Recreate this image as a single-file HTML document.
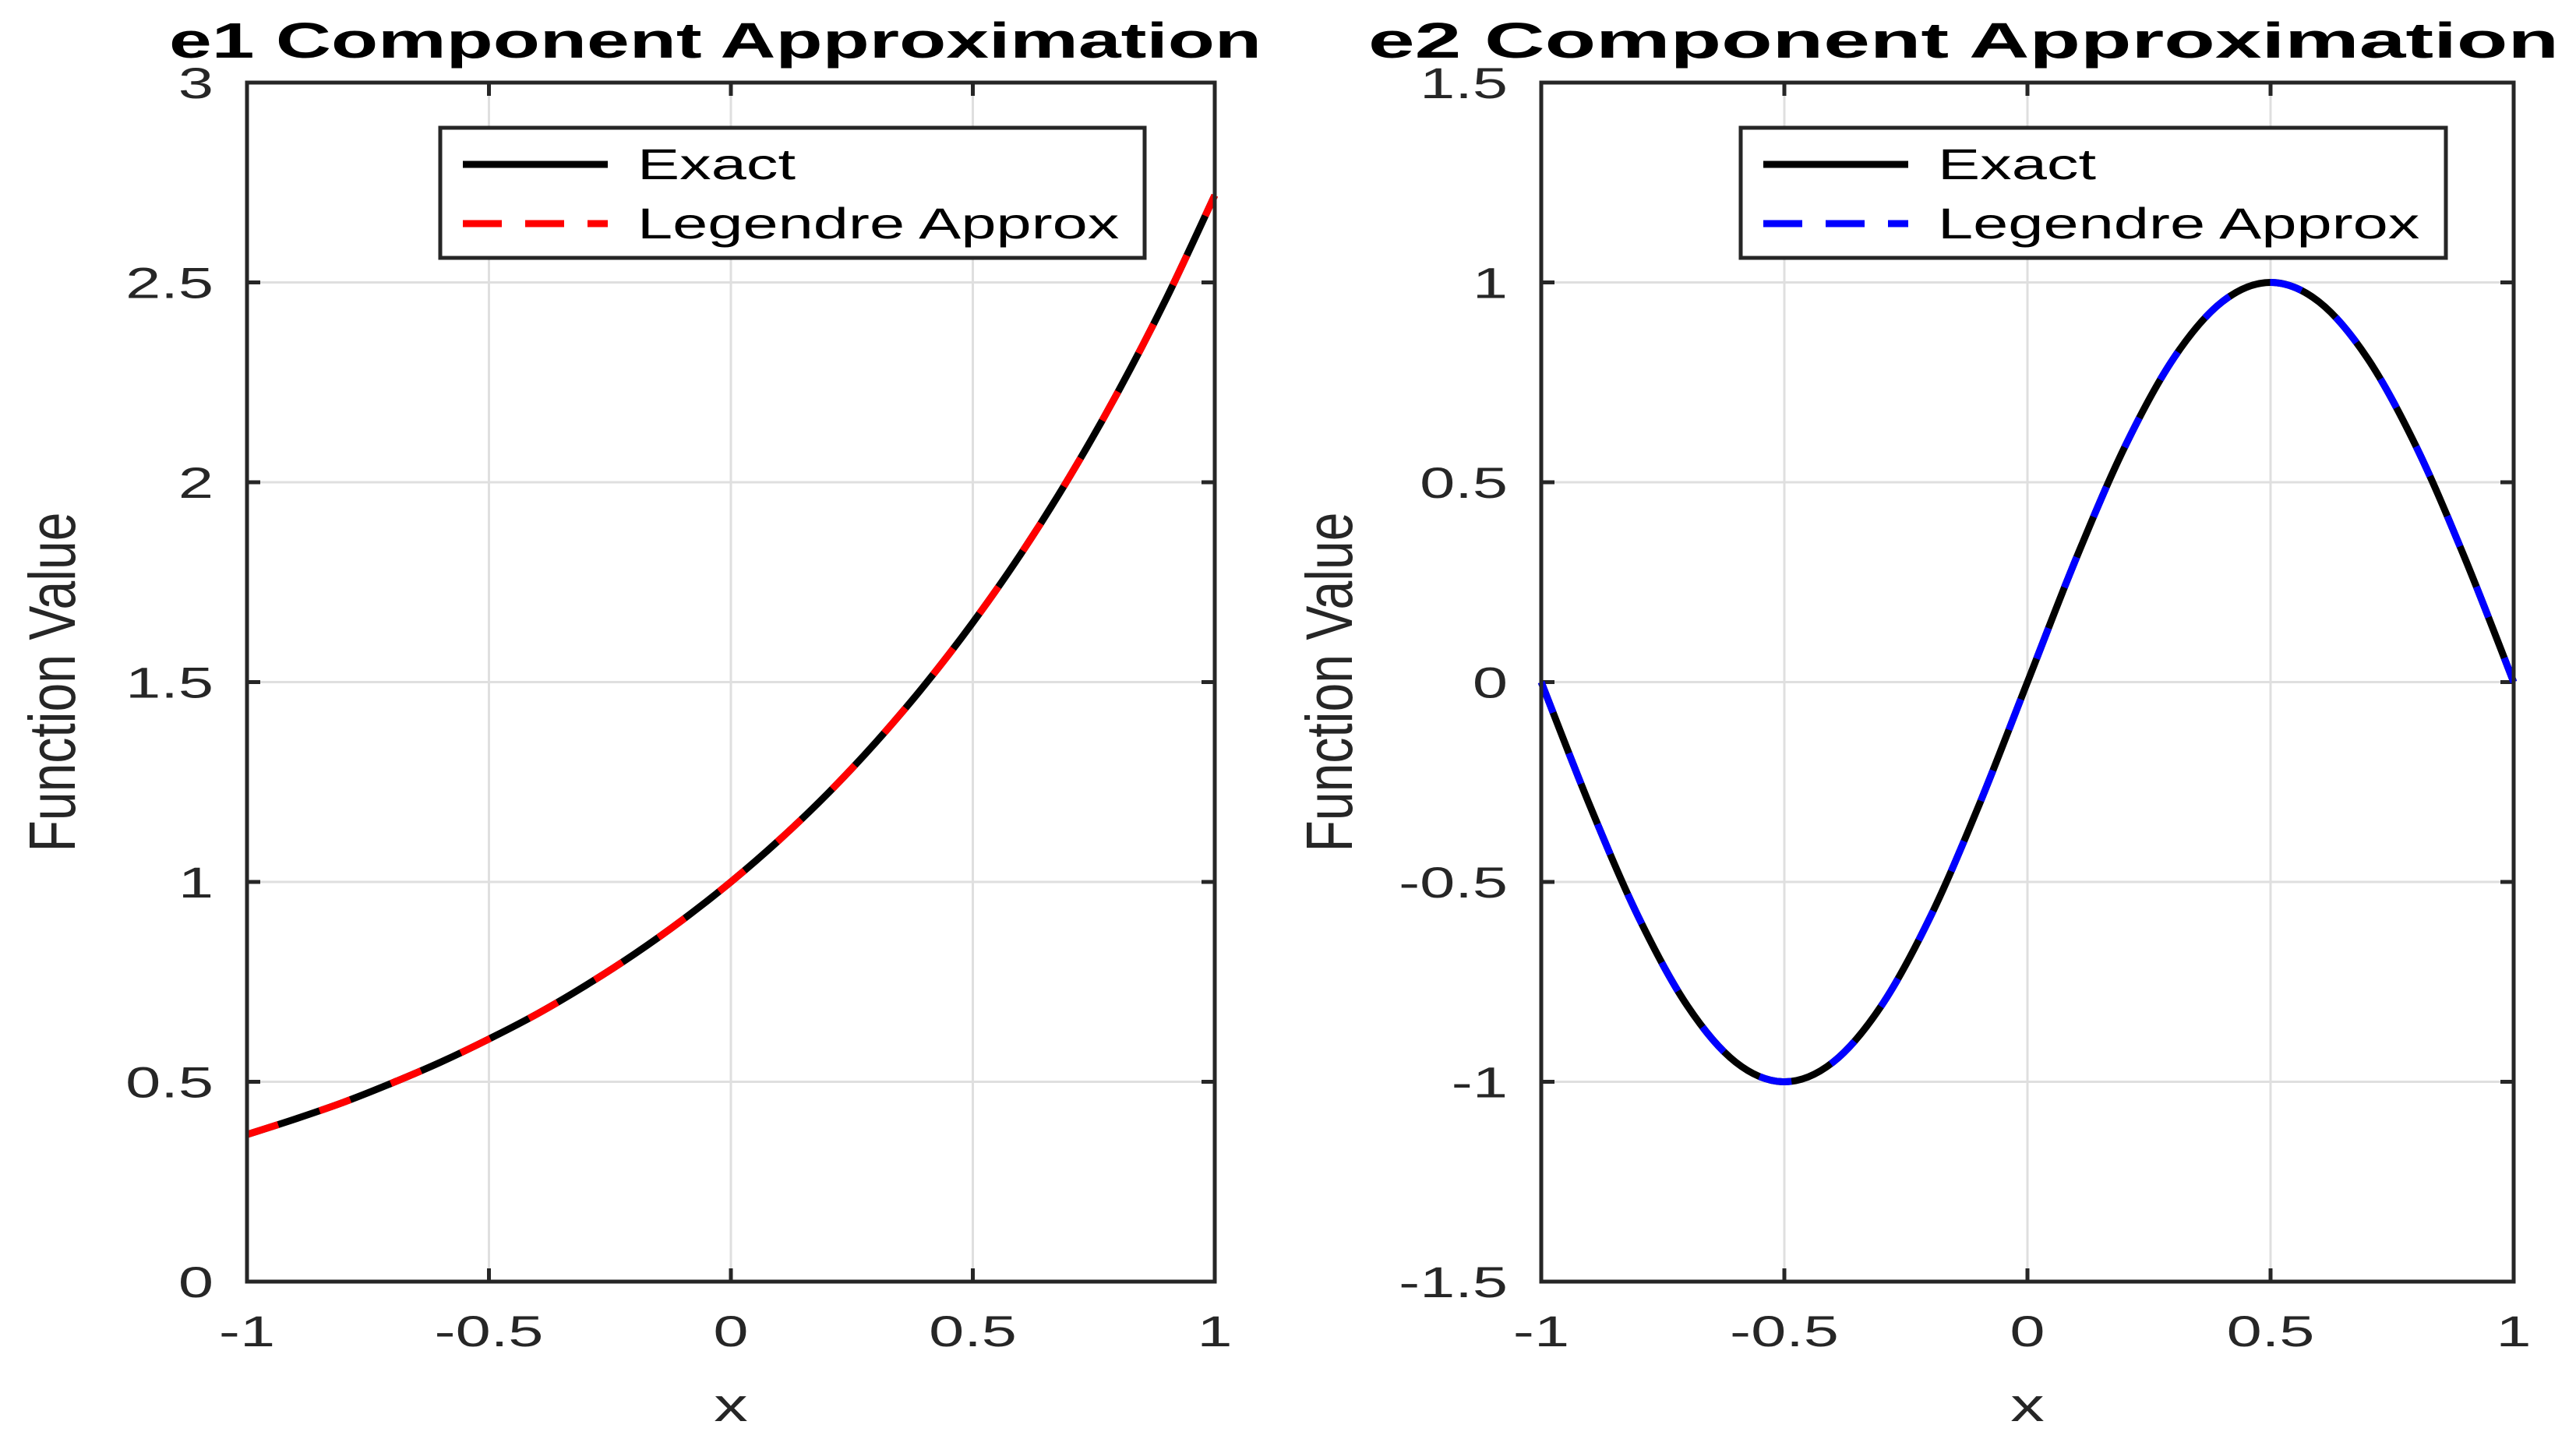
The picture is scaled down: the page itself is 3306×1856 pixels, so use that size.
<!DOCTYPE html>
<html><head><meta charset="utf-8"><style>
html,body{margin:0;padding:0;background:#fff;}
svg{display:block;}
</style></head><body>
<svg id="fig" width="3306" height="1856" viewBox="0 0 3306 1856" xmlns="http://www.w3.org/2000/svg" font-family="Liberation Sans, sans-serif"></svg>
<script>
const xValues = [-1,-0.9,-0.8,-0.7,-0.6,-0.5,-0.4,-0.3,-0.2,-0.1,0,0.1,0.2,0.3,0.4,0.5,0.6,0.7,0.8,0.9,1];
const e1Exact = [0.368,0.407,0.449,0.497,0.549,0.607,0.670,0.741,0.819,0.905,1.0,1.105,1.221,1.350,1.492,1.649,1.822,2.014,2.226,2.460,2.718];
const e1Approx = [0.368,0.407,0.449,0.497,0.549,0.607,0.670,0.741,0.819,0.905,1.0,1.105,1.221,1.350,1.492,1.649,1.822,2.014,2.226,2.460,2.718];
const e2Exact = [0,-0.309,-0.588,-0.809,-0.951,-1,-0.951,-0.809,-0.588,-0.309,0,0.309,0.588,0.809,0.951,1,0.951,0.809,0.588,0.309,0];
const e2Approx = [0,-0.309,-0.588,-0.809,-0.951,-1,-0.951,-0.809,-0.588,-0.309,0,0.309,0.588,0.809,0.951,1,0.951,0.809,0.588,0.309,0];
const xTicks = [-1,-0.5,0,0.5,1];
const xTickLabels = ["-1","-0.5","0","0.5","1"];
const e1YTicks = [0,0.5,1,1.5,2,2.5,3];
const e1YTickLabels = ["0","0.5","1","1.5","2","2.5","3"];
const e2YTicks = [-1.5,-1,-0.5,0,0.5,1,1.5];
const e2YTickLabels = ["-1.5","-1","-0.5","0","0.5","1","1.5"];

const NS = "http://www.w3.org/2000/svg";
const svg = document.getElementById('fig');
function mk(tag, attrs, parent){
  const e = document.createElementNS(NS, tag);
  for (const k in attrs) e.setAttribute(k, attrs[k]);
  (parent||svg).appendChild(e);
  return e;
}
function smoothPath(pts){
  let d = `M${pts[0][0]},${pts[0][1]}`;
  for (let i=0;i<pts.length-1;i++){
    const p0=pts[Math.max(i-1,0)], p1=pts[i], p2=pts[i+1], p3=pts[Math.min(i+2,pts.length-1)];
    const c1=[p1[0]+(p2[0]-p0[0])/6, p1[1]+(p2[1]-p0[1])/6];
    const c2=[p2[0]-(p3[0]-p1[0])/6, p2[1]-(p3[1]-p1[1])/6];
    d += ` C${c1[0]},${c1[1]} ${c2[0]},${c2[1]} ${p2[0]},${p2[1]}`;
  }
  return d;
}
const SX = 1.45;

function panel(cfg){
  const {L,R,T,B,ymin,ymax,yTicks,yLabels,exact,approx,color,title,key,legend,titleX,titleW,ylabX} = cfg;
  const g = mk('g',{});
  
  
  const xs = v => L + (v+1)/2*(R-L);
  const ys = v => B - (v-ymin)/(ymax-ymin)*(B-T);
  xTicks.forEach((t,i)=>{
    const l = mk('line',{x1:xs(t),x2:xs(t),y1:T,y2:B,stroke:'#dfdfdf','stroke-width':3},g);
    
    
  });
  yTicks.forEach((t,i)=>{
    const l = mk('line',{x1:L,x2:R,y1:ys(t),y2:ys(t),stroke:'#dfdfdf','stroke-width':3},g);
    
    
  });
  const tl = 17;
  xTicks.forEach((t,i)=>{
    mk('line',{x1:xs(t),x2:xs(t),y1:B,y2:B-tl,stroke:'#262626','stroke-width':5},g);
    mk('line',{x1:xs(t),x2:xs(t),y1:T,y2:T+tl,stroke:'#262626','stroke-width':5},g);
    const tx = mk('text',{x:0,y:0,'text-anchor':'middle','font-size':56,fill:'#262626',transform:`translate(${xs(t)},1728) scale(${SX},1)`},g);
    tx.textContent = xTickLabels[i];
    
    
  });
  yTicks.forEach((t,i)=>{
    mk('line',{x1:L,x2:L+tl,y1:ys(t),y2:ys(t),stroke:'#262626','stroke-width':5},g);
    mk('line',{x1:R,x2:R-tl,y1:ys(t),y2:ys(t),stroke:'#262626','stroke-width':5},g);
    const tx = mk('text',{x:0,y:0,'text-anchor':'end','font-size':56,fill:'#262626',transform:`translate(${L-43},${ys(t)+20}) scale(${SX},1)`},g);
    tx.textContent = yLabels[i];
    
    
  });
  const pe = xValues.map((x,i)=>[xs(x),ys(exact[i])]);
  const pa = xValues.map((x,i)=>[xs(x),ys(approx[i])]);
  const s1 = mk('path',{d:smoothPath(pe),fill:'none',stroke:'#000','stroke-width':9},g);
  
  
  const s2 = mk('path',{d:smoothPath(pa),fill:'none',stroke:color,'stroke-width':9,'stroke-dasharray':'42 56'},g);
  
  
  const box = mk('rect',{x:L,y:T,width:R-L,height:B-T,fill:'none',stroke:'#262626','stroke-width':5},g);
  
  
  const tt = mk('text',{x:titleX-titleW/2,y:74,'font-size':64,'font-weight':'bold',fill:'#000',textLength:titleW,lengthAdjust:'spacingAndGlyphs'},g);
  tt.textContent = title;
  
  
  const xl = mk('text',{x:0,y:0,'text-anchor':'middle','font-size':60,fill:'#262626',transform:`translate(${(L+R)/2},1824) scale(${SX},1)`},g);
  xl.textContent = 'x';
  
  
  const yy = (T+B)/2;
  const yl = mk('text',{x:-218,y:0,'font-size':84,fill:'#262626',textLength:436,lengthAdjust:'spacingAndGlyphs',transform:`translate(${ylabX},${yy}) rotate(-90)`},g);
  yl.textContent = 'Function Value';
  
  
  const lg = mk('g',{},g);
  
  
  const [lx1,ly1,lx2,ly2] = legend;
  mk('rect',{x:lx1,y:ly1,width:lx2-lx1,height:ly2-ly1,fill:'#fff',stroke:'#262626','stroke-width':5},lg);
  mk('line',{x1:lx1+29,x2:lx1+215,y1:211,y2:211,stroke:'#000','stroke-width':9},lg);
  mk('line',{x1:lx1+29,x2:lx1+215,y1:287,y2:287,stroke:color,'stroke-width':9,'stroke-dasharray':'50 30'},lg);
  const t1 = mk('text',{x:0,y:0,'font-size':56,fill:'#000',transform:`translate(${lx1+253},230) scale(${SX},1)`},lg);
  t1.textContent = 'Exact';
  
  
  const t2 = mk('text',{x:0,y:0,'font-size':56,fill:'#000',transform:`translate(${lx1+253},306) scale(${SX},1)`},lg);
  t2.textContent = 'Legendre Approx';
  
  
}

panel({L:317,R:1559,T:106,B:1645,ymin:0,ymax:3,yTicks:e1YTicks,yLabels:e1YTickLabels,
  exact:e1Exact,approx:e1Approx,color:'#ff0000',title:'e1 Component Approximation',key:'e1',legend:[565,164,1469,331],titleX:918,titleW:1402,ylabX:96});
panel({L:1978,R:3226,T:106,B:1645,ymin:-1.5,ymax:1.5,yTicks:e2YTicks,yLabels:e2YTickLabels,
  exact:e2Exact,approx:e2Approx,color:'#0000ff',title:'e2 Component Approximation',key:'e2',legend:[2234,164,3139,331],titleX:2520,titleW:1528,ylabX:1735});
</script>
</body></html>
